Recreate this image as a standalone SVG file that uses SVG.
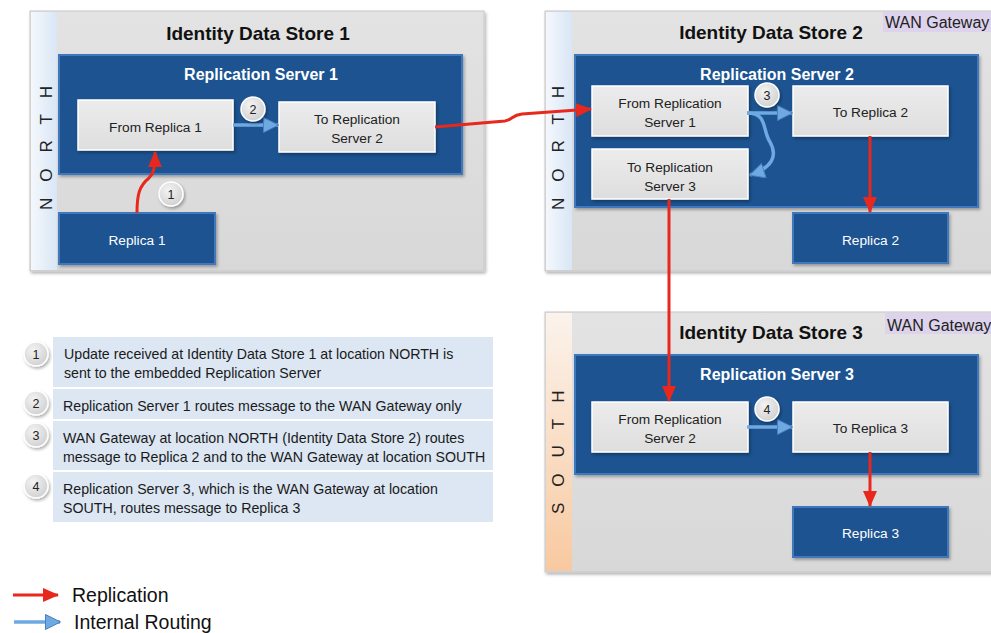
<svg xmlns="http://www.w3.org/2000/svg" width="991" height="633" viewBox="0 0 991 633">
<defs>
<linearGradient id="gPanel" x1="0" y1="0" x2="0" y2="1"><stop offset="0" stop-color="#e3e3e3"/><stop offset="1" stop-color="#d8d8d8"/></linearGradient>
<linearGradient id="gNorth" x1="0" y1="0" x2="1" y2="0"><stop offset="0" stop-color="#f4f8fd"/><stop offset="1" stop-color="#d9e6f5"/></linearGradient>
<linearGradient id="gSouth" x1="0" y1="0" x2="0" y2="1"><stop offset="0" stop-color="#fbf3ec"/><stop offset="1" stop-color="#f8c9a0"/></linearGradient>
<linearGradient id="gNode" x1="0" y1="0" x2="0" y2="1"><stop offset="0" stop-color="#ececec"/><stop offset="1" stop-color="#dedede"/></linearGradient>
<radialGradient id="gCirc" cx="0.4" cy="0.35" r="0.7"><stop offset="0" stop-color="#f4f4f4"/><stop offset="1" stop-color="#cfcfcf"/></radialGradient>
<filter id="sh" x="-10%" y="-10%" width="125%" height="130%"><feDropShadow dx="1.5" dy="2" stdDeviation="1.5" flood-color="#000" flood-opacity="0.3"/></filter>
<marker id="mRed" viewBox="0 0 16 14" refX="15" refY="7" markerWidth="16" markerHeight="14" markerUnits="userSpaceOnUse" orient="auto"><path d="M0,0 L16,7 L0,14 z" fill="#e8281c"/></marker>
<marker id="mBlue" viewBox="0 0 16 16" refX="15" refY="8" markerWidth="16" markerHeight="16" markerUnits="userSpaceOnUse" orient="auto"><path d="M0.5,0.5 L15.5,8 L0.5,15.5 z" fill="#6fa9e2" stroke="#4a80c2" stroke-width="1"/></marker>
<style>
.panel{fill:url(#gPanel);stroke:#c8c8c8;stroke-width:1}
.north{fill:url(#gNorth)}
.south{fill:url(#gSouth)}
.rs{fill:#1f5390;stroke:#3f78bd;stroke-width:2}
.node{fill:url(#gNode);stroke:#ffffff;stroke-width:1.5}
.rep{fill:#1f5390;stroke:#3f78bd;stroke-width:2}
.title{font-family:"Liberation Sans",Arial,sans-serif;font-weight:bold;font-size:19px;fill:#111;text-anchor:middle}
.rst{font-family:"Liberation Sans",Arial,sans-serif;font-weight:bold;font-size:16px;fill:#fff;text-anchor:middle}
.nt{font-family:"Liberation Sans",Arial,sans-serif;font-size:13.7px;fill:#222;text-anchor:middle}
.rt{font-family:"Liberation Sans",Arial,sans-serif;font-size:13.7px;fill:#fff;text-anchor:middle}
.loc{font-family:"Liberation Sans",Arial,sans-serif;font-size:17px;fill:#222;letter-spacing:16px}
.wan{font-family:"Liberation Sans",Arial,sans-serif;font-size:16px;fill:#222}
.wanbg{fill:#ddd3ec}
.circ{fill:url(#gCirc);stroke:#ffffff;stroke-width:1.5}
.ct{font-family:"Liberation Sans",Arial,sans-serif;font-size:12.5px;fill:#222;text-anchor:middle}
.row{fill:#dce7f3}
.lt{font-family:"Liberation Sans",Arial,sans-serif;font-size:14.2px;fill:#1a1a1a}
.leg{font-family:"Liberation Sans",Arial,sans-serif;font-size:19.5px;fill:#111}
.red{fill:none;stroke:#e8281c;stroke-width:3;marker-end:url(#mRed)}
.blue{fill:none;stroke:#6fa9e2;stroke-width:3.5;marker-end:url(#mBlue)}
</style>
</defs>
<rect width="991" height="633" fill="#ffffff"/>

<g id="store1">
<rect class="panel" x="30" y="11" width="454" height="260" filter="url(#sh)"/>
<rect class="north" x="31" y="12" width="26" height="258"/>
<text class="loc" transform="translate(52,210) rotate(-90)">NORTH</text>
<text class="title" x="258" y="40">Identity Data Store 1</text>
</g>
<g id="rs1">
<rect class="rs" x="59" y="55" width="403" height="119" filter="url(#sh)"/>
<text class="rst" x="261" y="80">Replication Server 1</text>
</g>
<g id="fromReplica1">
<rect class="node" x="78" y="100" width="155" height="50" filter="url(#sh)"/>
<text class="nt" x="155.5" y="132">From Replica 1</text>
</g>
<g id="toRS2">
<rect class="node" x="279" y="102" width="156" height="50" filter="url(#sh)"/>
<text class="nt" x="357" y="124">To Replication</text>
<text class="nt" x="357" y="143">Server 2</text>
</g>
<g id="replica1">
<rect class="rep" x="59" y="213" width="156" height="51" filter="url(#sh)"/>
<text class="rt" x="137" y="245">Replica 1</text>
</g>

<g id="store2">
<rect class="panel" x="545" y="11" width="460" height="260" filter="url(#sh)"/>
<rect class="north" x="546" y="12" width="26" height="258"/>
<text class="loc" transform="translate(564,210) rotate(-90)">NORTH</text>
<text class="title" x="771" y="39">Identity Data Store 2</text>
<rect class="wanbg" x="883" y="12" width="108" height="20"/>
<text class="wan" x="885" y="28">WAN Gateway</text>
</g>
<g id="rs2">
<rect class="rs" x="575" y="55" width="403" height="152" filter="url(#sh)"/>
<text class="rst" x="777" y="80">Replication Server 2</text>
</g>
<g id="fromRS1">
<rect class="node" x="592" y="86" width="156" height="50" filter="url(#sh)"/>
<text class="nt" x="670" y="108">From Replication</text>
<text class="nt" x="670" y="127">Server 1</text>
</g>
<g id="toReplica2">
<rect class="node" x="793" y="86" width="155" height="50" filter="url(#sh)"/>
<text class="nt" x="870.5" y="117">To Replica 2</text>
</g>
<g id="toRS3">
<rect class="node" x="592" y="149" width="156" height="50" filter="url(#sh)"/>
<text class="nt" x="670" y="172">To Replication</text>
<text class="nt" x="670" y="191">Server 3</text>
</g>
<g id="replica2">
<rect class="rep" x="793" y="213" width="155" height="50" filter="url(#sh)"/>
<text class="rt" x="870.5" y="245">Replica 2</text>
</g>

<g id="store3">
<rect class="panel" x="545" y="312" width="460" height="260" filter="url(#sh)"/>
<rect class="south" x="546" y="313" width="26" height="258"/>
<text class="loc" transform="translate(564,514) rotate(-90)">SOUTH</text>
<text class="title" x="771" y="339">Identity Data Store 3</text>
<rect class="wanbg" x="885" y="313" width="106" height="21"/>
<text class="wan" x="887" y="331">WAN Gateway</text>
</g>
<g id="rs3">
<rect class="rs" x="575" y="355" width="403" height="119" filter="url(#sh)"/>
<text class="rst" x="777" y="380">Replication Server 3</text>
</g>
<g id="fromRS2">
<rect class="node" x="592" y="402" width="156" height="50" filter="url(#sh)"/>
<text class="nt" x="670" y="424">From Replication</text>
<text class="nt" x="670" y="443">Server 2</text>
</g>
<g id="toReplica3">
<rect class="node" x="793" y="402" width="155" height="50" filter="url(#sh)"/>
<text class="nt" x="870.5" y="433">To Replica 3</text>
</g>
<g id="replica3">
<rect class="rep" x="793" y="507" width="155" height="50" filter="url(#sh)"/>
<text class="rt" x="870.5" y="538">Replica 3</text>
</g>

<g id="connectors">
<path class="red" d="M137,213 C137,195 139,186 149,178 C154,173 155,168 155,152"/>
<path class="blue" d="M233,125 L278,125"/>
<path class="red" d="M435,127 L505,121 C512,120 512,115 522,114 L591,109"/>
<path class="blue" d="M747,113 L792,113"/>
<path class="blue" d="M747,113 C768,113 762,130 770,142 C778,156 772,168 750,175"/>
<path class="red" d="M870,136 L870,212"/>
<path class="red" d="M669,199 L669,401"/>
<path class="blue" d="M747,427 L792,427"/>
<path class="red" d="M870,452 L870,506"/>
</g>

<g id="steps">
<circle class="circ" cx="253" cy="109" r="12" filter="url(#sh)"/><text class="ct" x="253" y="113.5">2</text>
<circle class="circ" cx="171" cy="194" r="12" filter="url(#sh)"/><text class="ct" x="171" y="198.5">1</text>
<circle class="circ" cx="767" cy="95" r="12" filter="url(#sh)"/><text class="ct" x="767" y="99.5">3</text>
<circle class="circ" cx="767" cy="409" r="12" filter="url(#sh)"/><text class="ct" x="767" y="413.5">4</text>
</g>

<g id="legend-table">
<rect class="row" x="53" y="337" width="440" height="50"/>
<rect class="row" x="53" y="389" width="440" height="30"/>
<rect class="row" x="53" y="421" width="440" height="49"/>
<rect class="row" x="53" y="472" width="440" height="50"/>
<circle class="circ" cx="36" cy="354" r="12" filter="url(#sh)"/><text class="ct" x="36" y="358.5">1</text>
<circle class="circ" cx="36" cy="403" r="12" filter="url(#sh)"/><text class="ct" x="36" y="407.5">2</text>
<circle class="circ" cx="36" cy="435" r="12" filter="url(#sh)"/><text class="ct" x="36" y="439.5">3</text>
<circle class="circ" cx="36" cy="486" r="12" filter="url(#sh)"/><text class="ct" x="36" y="490.5">4</text>
<text class="lt" x="64" y="359">Update received at Identity Data Store 1 at location NORTH is</text>
<text class="lt" x="64" y="378">sent to the embedded Replication Server</text>
<text class="lt" x="63" y="411">Replication Server 1 routes message to the WAN Gateway only</text>
<text class="lt" x="63" y="443">WAN Gateway at location NORTH (Identity Data Store 2) routes</text>
<text class="lt" x="63" y="462">message to Replica 2 and to the WAN Gateway at location SOUTH</text>
<text class="lt" x="63" y="494">Replication Server 3, which is the WAN Gateway at location</text>
<text class="lt" x="63" y="513">SOUTH, routes message to Replica 3</text>
</g>

<g id="legend">
<path class="red" d="M13,595 L58,595"/>
<text class="leg" x="72" y="602">Replication</text>
<path class="blue" d="M14,622 L60,622"/>
<text class="leg" x="74" y="629">Internal Routing</text>
</g>
</svg>
